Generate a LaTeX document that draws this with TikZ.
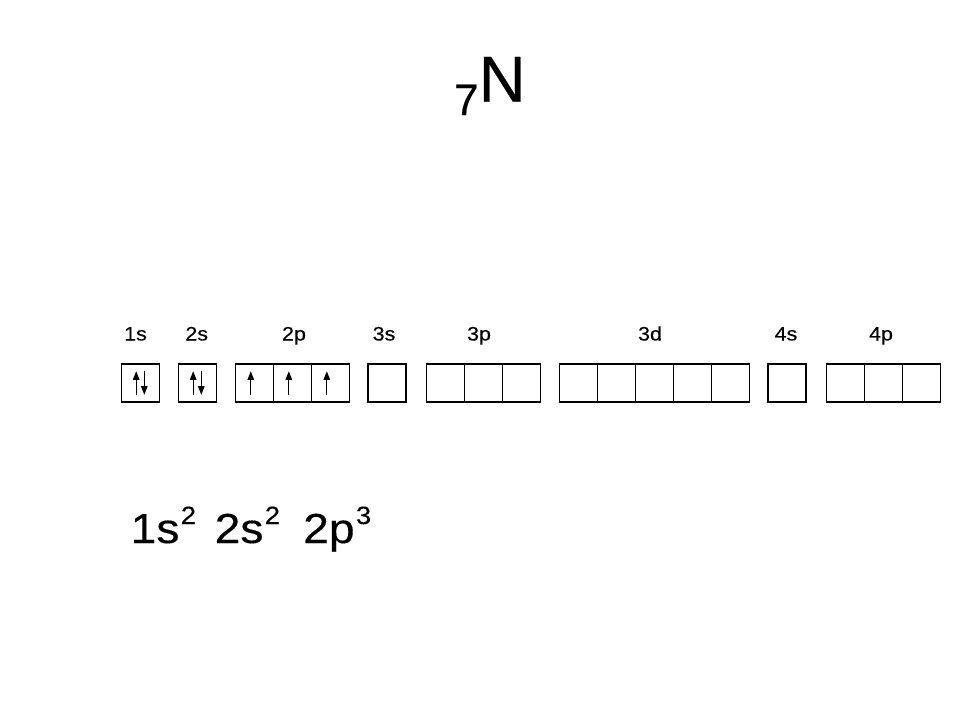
\documentclass[tikz,border=0pt]{standalone}
\usepackage{fontspec}
\setmainfont{Liberation Sans}
\newfontfamily\heavy[FakeBold=0.3]{Liberation Sans}
\usetikzlibrary{arrows.meta}
\newcommand{\wide}[1]{\scalebox{1.1}[1]{#1}}
\newcommand{\sups}[1]{\kern1.2pt\raisebox{19pt}{\fontsize{25}{26}\selectfont #1}}
\begin{document}
\begin{tikzpicture}[x=1pt,y=-1pt,
  orb/.style={draw,line width=1.1pt,minimum size=38pt,inner sep=0pt,outer sep=0pt},
  lbl/.style={anchor=base,inner sep=0pt,font=\heavy\fontsize{19.5}{21}\selectfont},
  spin/.style={line width=1.1pt,-{Triangle[length=8.5pt,width=6.5pt]}},
  cfg/.style={anchor=base west,inner sep=0pt,font=\heavy\fontsize{42}{44}\selectfont}]
\useasboundingbox (0,0) rectangle (960,720);
\fill[white] (0,0) rectangle (960,720);
% title
\node[anchor=base west,inner sep=0pt,font=\heavy] (title) at (454,101.7)
  {\raisebox{-13.3pt}{\fontsize{44}{46}\selectfont 7}\fontsize{65}{68}\selectfont N};
% labels
\node[lbl] (l1s) at (135.5,340.5) {\wide{1s}};
\node[lbl] (l2s) at (196.7,340.5) {\wide{2s}};
\node[lbl] (l2p) at (294,340.5) {\wide{2p}};
\node[lbl] (l3s) at (384,340.5) {\wide{3s}};
\node[lbl] (l3p) at (479,340.5) {\wide{3p}};
\node[lbl] (l3d) at (650,340.5) {\wide{3d}};
\node[lbl] (l4s) at (786,340.5) {\wide{4s}};
\node[lbl] (l4p) at (881,340.5) {\wide{4p}};
% boxes
\node[orb] (b1s) at (140.5,383) {};
\node[orb] (b2s) at (197.5,383) {};
\node[orb] (b2pa) at (254.3,383) {};
\node[orb] (b2pb) at (292.3,383) {};
\node[orb] (b2pc) at (330.3,383) {};
\node[orb] (b3s) at (387,383) {};
\node[orb] (b3pa) at (445.7,383) {};
\node[orb] (b3pb) at (483.7,383) {};
\node[orb] (b3pc) at (521.7,383) {};
\node[orb] (b3da) at (578.3,383) {};
\node[orb] (b3db) at (616.3,383) {};
\node[orb] (b3dc) at (654.3,383) {};
\node[orb] (b3dd) at (692.3,383) {};
\node[orb] (b3de) at (730.3,383) {};
\node[orb] (b4s) at (787,383) {};
\node[orb] (b4pa) at (845.7,383) {};
\node[orb] (b4pb) at (883.7,383) {};
\node[orb] (b4pc) at (921.7,383) {};
% spins
\foreach \b in {b1s,b2s}{
  \draw[spin] ([xshift=-4.3pt,yshift=-11.7pt]\b.center) -- ([xshift=-4.3pt,yshift=11.7pt]\b.center);
  \draw[spin] ([xshift=3.8pt,yshift=11.7pt]\b.center) -- ([xshift=3.8pt,yshift=-11.7pt]\b.center);
}
\foreach \b in {b2pa,b2pb,b2pc}{
  \draw[spin] ([xshift=-3.5pt,yshift=-11.7pt]\b.center) -- ([xshift=-3.5pt,yshift=11.7pt]\b.center);
}
% configuration
\node[cfg] (c1) at (130.5,543) {\wide{1s\sups{2}}};
\node[cfg] (c2) at (214.5,543) {\wide{2s\sups{2}}};
\node[cfg] (c3) at (303,543) {\wide{2p\sups{3}}};
\end{tikzpicture}
\end{document}
